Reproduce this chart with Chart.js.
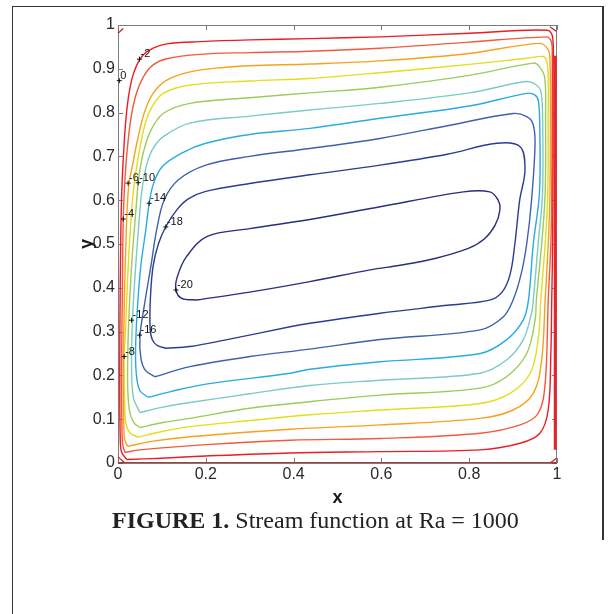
<!DOCTYPE html>
<html>
<head>
<meta charset="utf-8">
<script src="https://cdn.jsdelivr.net/npm/chart.js@4"></script>
<style>
html,body{margin:0;padding:0;background:#fff;}
#wrap{position:relative;width:608px;height:614px;overflow:hidden;background:#fff;}
#frame{position:absolute;left:12px;top:6px;width:591px;height:640px;border-left:1.5px solid #333;border-top:1.5px solid #333;box-sizing:border-box;}
#frameR{position:absolute;left:602px;top:6px;width:1.5px;height:534px;background:#333;}
canvas{position:absolute;left:0;top:0;}
#cap{position:absolute;left:112px;top:508px;font-family:"Liberation Serif","Times New Roman",serif;font-size:24px;line-height:24px;color:#222;white-space:nowrap;}
</style>
</head>
<body>
<div id="wrap">
  <div id="frame"></div>
  <div id="frameR"></div>
  <canvas id="c" width="608" height="614"></canvas>
  <div id="cap"><b>FIGURE 1.</b> Stream function at Ra = 1000</div>
</div>
<script>
// ---- data: contour lines of the stream function (x, y pairs) ----
const levels = [-2, -4, -6, -8, -10, -12, -14, -16, -18, -20];

const c2 = [[0.020,0.008],[0.100,0.011],[0.200,0.016],[0.392,0.023],[0.597,0.026],[0.825,0.030],[0.916,0.045],[0.961,0.068],[0.980,0.121],[0.986,0.250],[0.988,0.372],[0.990,0.500],[0.991,0.700],[0.991,0.900],[0.990,0.972],[0.978,0.988],[0.800,0.981],[0.597,0.973],[0.437,0.969],[0.300,0.966],[0.187,0.962],[0.111,0.957],[0.080,0.947],[0.058,0.932],[0.043,0.909],[0.031,0.874],[0.021,0.814],[0.014,0.730],[0.008,0.600],[0.005,0.400],[0.004,0.200],[0.005,0.060],[0.008,0.025],[0.020,0.008]];

const c4 = [[0.016,0.024],[0.050,0.030],[0.200,0.042],[0.392,0.052],[0.597,0.056],[0.825,0.068],[0.916,0.087],[0.957,0.113],[0.973,0.182],[0.980,0.372],[0.986,0.500],[0.988,0.616],[0.989,0.800],[0.989,0.950],[0.986,0.965],[0.977,0.973],[0.800,0.961],[0.597,0.947],[0.437,0.940],[0.300,0.937],[0.187,0.933],[0.111,0.923],[0.080,0.909],[0.058,0.882],[0.042,0.844],[0.030,0.790],[0.021,0.715],[0.016,0.650],[0.012,0.557],[0.010,0.400],[0.008,0.200],[0.009,0.080],[0.011,0.040],[0.016,0.024]];

const c6 = [[0.022,0.038],[0.080,0.050],[0.164,0.060],[0.392,0.077],[0.597,0.087],[0.825,0.102],[0.900,0.121],[0.946,0.159],[0.965,0.235],[0.973,0.372],[0.980,0.500],[0.984,0.616],[0.985,0.800],[0.984,0.920],[0.980,0.943],[0.961,0.958],[0.800,0.935],[0.597,0.918],[0.437,0.911],[0.300,0.907],[0.240,0.903],[0.164,0.893],[0.111,0.874],[0.080,0.844],[0.060,0.800],[0.045,0.740],[0.033,0.680],[0.024,0.630],[0.018,0.500],[0.014,0.350],[0.012,0.200],[0.013,0.100],[0.015,0.055],[0.022,0.038]];

const c8 = [[0.046,0.059],[0.100,0.072],[0.164,0.083],[0.300,0.097],[0.437,0.110],[0.597,0.121],[0.825,0.136],[0.893,0.159],[0.939,0.205],[0.957,0.281],[0.963,0.372],[0.973,0.500],[0.979,0.616],[0.980,0.800],[0.980,0.880],[0.977,0.915],[0.969,0.928],[0.931,0.924],[0.800,0.910],[0.597,0.891],[0.437,0.878],[0.300,0.872],[0.164,0.863],[0.103,0.844],[0.078,0.814],[0.062,0.775],[0.050,0.720],[0.040,0.660],[0.033,0.600],[0.026,0.500],[0.021,0.400],[0.017,0.300],[0.014,0.243],[0.015,0.150],[0.018,0.090],[0.028,0.068],[0.046,0.059]];

const c10 = [[0.050,0.081],[0.100,0.092],[0.164,0.102],[0.300,0.125],[0.437,0.140],[0.597,0.155],[0.825,0.171],[0.885,0.197],[0.931,0.250],[0.950,0.326],[0.953,0.372],[0.965,0.500],[0.973,0.616],[0.974,0.800],[0.972,0.880],[0.960,0.905],[0.946,0.913],[0.800,0.885],[0.597,0.858],[0.437,0.845],[0.300,0.834],[0.164,0.821],[0.103,0.798],[0.075,0.760],[0.058,0.710],[0.050,0.670],[0.046,0.640],[0.041,0.580],[0.033,0.480],[0.027,0.380],[0.023,0.280],[0.022,0.180],[0.026,0.120],[0.036,0.092],[0.050,0.081]];

const c12 = [[0.050,0.115],[0.100,0.127],[0.164,0.138],[0.300,0.158],[0.437,0.177],[0.597,0.189],[0.825,0.205],[0.885,0.235],[0.923,0.281],[0.942,0.342],[0.946,0.372],[0.957,0.500],[0.967,0.616],[0.967,0.800],[0.963,0.850],[0.953,0.863],[0.931,0.871],[0.800,0.845],[0.597,0.821],[0.437,0.806],[0.300,0.792],[0.164,0.776],[0.103,0.745],[0.078,0.715],[0.065,0.680],[0.057,0.640],[0.052,0.600],[0.044,0.500],[0.037,0.400],[0.032,0.300],[0.031,0.220],[0.035,0.150],[0.050,0.115]];

const c14 = [[0.069,0.150],[0.120,0.163],[0.200,0.180],[0.392,0.205],[0.437,0.214],[0.597,0.231],[0.825,0.250],[0.885,0.281],[0.923,0.326],[0.935,0.372],[0.946,0.500],[0.960,0.616],[0.961,0.750],[0.958,0.825],[0.950,0.840],[0.931,0.844],[0.800,0.815],[0.597,0.787],[0.437,0.764],[0.300,0.750],[0.200,0.730],[0.150,0.710],[0.100,0.676],[0.080,0.635],[0.071,0.593],[0.063,0.530],[0.052,0.450],[0.044,0.350],[0.040,0.260],[0.042,0.200],[0.050,0.165],[0.069,0.150]];

const c16 = [[0.084,0.197],[0.164,0.220],[0.300,0.243],[0.437,0.260],[0.597,0.282],[0.825,0.304],[0.878,0.334],[0.900,0.372],[0.918,0.430],[0.931,0.500],[0.942,0.600],[0.950,0.730],[0.945,0.775],[0.931,0.791],[0.900,0.798],[0.750,0.770],[0.597,0.741],[0.437,0.718],[0.300,0.700],[0.200,0.680],[0.137,0.646],[0.105,0.600],[0.088,0.532],[0.075,0.450],[0.060,0.360],[0.050,0.290],[0.052,0.240],[0.062,0.212],[0.084,0.197]];

const c18 = [[0.110,0.262],[0.164,0.266],[0.240,0.280],[0.392,0.311],[0.437,0.319],[0.597,0.342],[0.750,0.360],[0.847,0.372],[0.875,0.390],[0.893,0.430],[0.904,0.500],[0.915,0.600],[0.927,0.669],[0.916,0.722],[0.863,0.730],[0.750,0.705],[0.597,0.680],[0.437,0.658],[0.300,0.638],[0.200,0.620],[0.160,0.603],[0.134,0.578],[0.109,0.540],[0.092,0.500],[0.080,0.450],[0.074,0.380],[0.073,0.310],[0.078,0.282],[0.090,0.268],[0.110,0.262]];

const c20 = [[0.179,0.372],[0.300,0.390],[0.437,0.414],[0.574,0.441],[0.646,0.452],[0.722,0.467],[0.798,0.490],[0.835,0.512],[0.859,0.543],[0.870,0.578],[0.866,0.600],[0.847,0.619],[0.787,0.619],[0.597,0.585],[0.437,0.556],[0.300,0.535],[0.202,0.517],[0.156,0.471],[0.135,0.425],[0.132,0.395],[0.145,0.376],[0.179,0.372]];

// zero level along the walls and at the corners
const zeroBottom = [[0.000,0.000],[1.000,0.000]];
const zeroRight = [[0.996,0.030],[0.996,0.930]];
const zeroCornerTL = [[0.000,0.981],[0.012,0.992]];
const zeroCornerBL = [[0.000,0.014],[0.016,0.000]];
const zeroCornerBR = [[0.984,0.000],[0.999,0.011]];
const zeroCornerTR = [[0.984,0.996],[0.999,0.985]];

const contours = [c2, c4, c6, c8, c10, c12, c14, c16, c18, c20];

// contour labels (clabel) : text and anchor point
const labelText = ['0', '-2', '-4', '-6', '-10', '-14', '-18', '-20', '-12', '-16', '-8'];
const labelX = [0.003, 0.049, 0.012, 0.023, 0.046, 0.071, 0.109, 0.132, 0.031, 0.049, 0.014];
const labelY = [0.873, 0.922, 0.557, 0.639, 0.640, 0.593, 0.539, 0.395, 0.326, 0.292, 0.243];

const xTicks = [0, 0.2, 0.4, 0.6, 0.8, 1];
const yTicks = [0, 0.1, 0.2, 0.3, 0.4, 0.5, 0.6, 0.7, 0.8, 0.9, 1];

// ---- styles ----
const levelColors = ['#ec1c24', '#f15a3c', '#f8a11c', '#e3dd1c', '#9dcb5a', '#7ccbc5', '#29abe2', '#3f60ad', '#2e3b92', '#292e7f'];
const zeroColor = '#e3262c';

const toXY = arr => arr.map(p => ({x: p[0], y: p[1]}));

const datasets = contours.map((c, i) => ({
  label: String(levels[i]),
  data: toXY(c),
  showLine: true,
  borderColor: levelColors[i],
  borderWidth: 1.4,
  pointRadius: 0,
  tension: 0.35,
  fill: false
}));

[zeroCornerTL, zeroCornerBL, zeroCornerBR, zeroCornerTR].forEach(z => datasets.push({
  label: '0', data: toXY(z), showLine: true, borderColor: '#c0282c', borderWidth: 1.3,
  pointRadius: 0, tension: 0, fill: false, clip: 4
}));
datasets.push({label: '0', data: toXY(zeroRight), showLine: true, borderColor: zeroColor, borderWidth: 3,
  pointRadius: 0, tension: 0, fill: false, clip: 4});
datasets.push({label: '0', data: toXY(zeroBottom), showLine: true, borderColor: '#8a3a3a', borderWidth: 1.3,
  pointRadius: 0, tension: 0, fill: false, clip: 4});

const boxPlugin = {
  id: 'matlabBox',
  beforeDatasetsDraw(chart) {
    const {ctx, chartArea: a, scales: {x, y}} = chart;
    ctx.save();
    ctx.strokeStyle = '#7c7c7c';
    ctx.lineWidth = 1;
    ctx.strokeRect(a.left + 0.5, a.top + 0.5, a.right - a.left - 1, a.bottom - a.top - 1);
    ctx.beginPath();
    xTicks.forEach(v => {
      const px = Math.round(x.getPixelForValue(v)) + 0.5;
      ctx.moveTo(px, a.bottom); ctx.lineTo(px, a.bottom - 5);
      ctx.moveTo(px, a.top); ctx.lineTo(px, a.top + 5);
    });
    yTicks.forEach(v => {
      const py = Math.round(y.getPixelForValue(v)) + 0.5;
      ctx.moveTo(a.left, py); ctx.lineTo(a.left + 5, py);
      ctx.moveTo(a.right, py); ctx.lineTo(a.right - 5, py);
    });
    ctx.stroke();
    ctx.restore();
  },
  afterDatasetsDraw(chart) {
    const {ctx, scales: {x, y}} = chart;
    ctx.save();
    ctx.strokeStyle = '#111';
    ctx.fillStyle = '#111';
    ctx.lineWidth = 1;
    ctx.font = '11px "Liberation Sans", Arial, sans-serif';
    ctx.textAlign = 'left';
    ctx.textBaseline = 'alphabetic';
    labelText.forEach((t, i) => {
      const px = x.getPixelForValue(labelX[i]);
      const py = y.getPixelForValue(labelY[i]);
      ctx.beginPath();
      ctx.moveTo(px - 2.5, py); ctx.lineTo(px + 2.5, py);
      ctx.moveTo(px, py - 2.5); ctx.lineTo(px, py + 2.5);
      ctx.stroke();
      ctx.fillText(t, px + 1, py - 2);
    });
    ctx.restore();
  }
};

const tickFont = {family: '"Liberation Sans", Arial, sans-serif', size: 16};
const fmt = v => String(v);

new Chart(document.getElementById('c'), {
  type: 'scatter',
  data: {datasets},
  plugins: [boxPlugin],
  options: {
    responsive: false,
    animation: false,
    events: [],
    layout: {padding: {left: 72, right: 51, top: 25, bottom: 101}},
    plugins: {legend: {display: false}, tooltip: {enabled: false}},
    scales: {
      x: {
        type: 'linear', min: 0, max: 1,
        afterBuildTicks: s => { s.ticks = xTicks.map(v => ({value: v})); },
        afterFit: s => { s.height = 50; },
        grid: {display: false, drawTicks: false},
        border: {display: false},
        ticks: {font: tickFont, color: '#2a2a2a', padding: 2, maxRotation: 0, callback: fmt},
        title: {display: true, text: 'x', color: '#1a1a1a', padding: {top: 0, bottom: 4},
          font: {family: '"Liberation Sans", Arial, sans-serif', size: 18, weight: 'bold'}}
      },
      y: {
        type: 'linear', min: 0, max: 1,
        afterBuildTicks: s => { s.ticks = yTicks.map(v => ({value: v})); },
        afterFit: s => { s.width = 46; },
        grid: {display: false, drawTicks: false},
        border: {display: false},
        ticks: {font: tickFont, color: '#2a2a2a', padding: 3, callback: fmt},
        title: {display: true, text: 'y', color: '#1a1a1a', padding: {top: 4, bottom: 0},
          font: {family: '"Liberation Sans", Arial, sans-serif', size: 18, weight: 'bold'}}
      }
    }
  }
});
</script>
</body>
</html>
